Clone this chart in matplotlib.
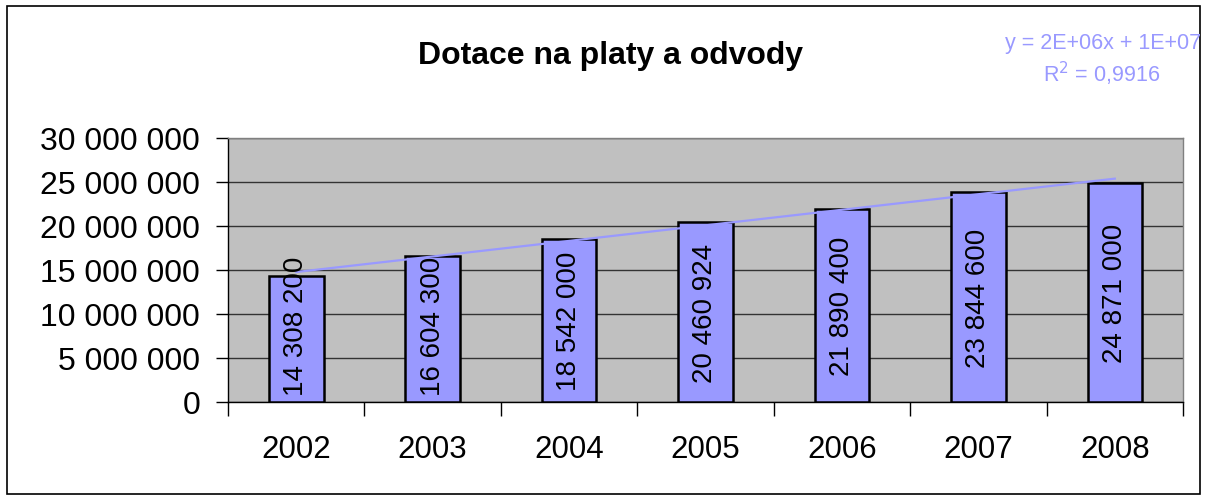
import numpy as np
import matplotlib
matplotlib.use("Agg")
import matplotlib.pyplot as plt
from matplotlib.patches import Rectangle

years = ["2002", "2003", "2004", "2005", "2006", "2007", "2008"]
values = [14308200, 16604300, 18542000, 20460924, 21890400, 23844600, 24871000]
value_labels = ["14 308 200", "16 604 300", "18 542 000", "20 460 924",
                "21 890 400", "23 844 600", "24 871 000"]
yticks = [0, 5000000, 10000000, 15000000, 20000000, 25000000, 30000000]
ytick_labels = ["0", "5 000 000", "10 000 000", "15 000 000", "20 000 000",
                "25 000 000", "30 000 000"]

plt.rcParams['font.family'] = ['Liberation Sans', 'DejaVu Sans']

W, H = 1209, 502
fig = plt.figure(figsize=(W / 100, H / 100), dpi=100)
fig.patch.set_facecolor('white')

# outer chart border
fig.patches.append(Rectangle((7 / W, 1 - 495 / H), (1200 - 7) / W, (495 - 7) / H,
                             transform=fig.transFigure, fill=False,
                             edgecolor='black', linewidth=1.2))

left, right, top, bottom = 228, 1183, 139, 403
ax = fig.add_axes([left / W, 1 - bottom / H, (right - left) / W, (bottom - top) / H])
ax.set_facecolor('#C0C0C0')

x = np.arange(len(years))
ax.bar(x, values, width=0.4, color='#9999FF', edgecolor='black', linewidth=1.8, zorder=3)

# labels centred in the bar, but kept inside above the base
min_center = 8.75e6
for xi, v, lab in zip(x, values, value_labels):
    ax.text(xi, max(v / 2, min_center), lab, rotation=90, ha='center', va='center',
            rotation_mode='anchor', fontsize=20, color='black', zorder=5)

# linear trendline
coef = np.polyfit(x + 1, values, 1)
tx = np.array([x[0], x[-1]])
ax.plot(tx, np.polyval(coef, tx + 1), color='#9999FF', linewidth=1.6, zorder=4)

ax.set_xlim(-0.5, len(years) - 0.5)
ax.set_ylim(0, 30000000)
ax.set_yticks(yticks)
ax.set_yticklabels(ytick_labels, fontsize=23)
ax.yaxis.grid(True, color='#333333', linewidth=1.0, zorder=1)
ax.set_axisbelow(True)

ax.set_xticks(x)
ax.set_xticklabels(years, fontsize=22.5)
ax.set_xticks(np.arange(-0.5, len(years)), minor=True)
ax.tick_params(axis='x', which='major', length=0, pad=23)
ax.tick_params(axis='x', which='minor', length=10, width=1, color='black')
ax.tick_params(axis='y', length=9, width=1, color='black', pad=11)

for s in ['top', 'right']:
    ax.spines[s].set_color('#808080')
    ax.spines[s].set_linewidth(1.0)
for s in ['left', 'bottom']:
    ax.spines[s].set_color('black')
    ax.spines[s].set_linewidth(1.0)

fig.text(610 / W, 1 - 56 / H, "Dotace na platy a odvody", ha='center', va='center',
         fontsize=23, fontweight='bold')
fig.text(1103 / W, 1 - 44 / H, "y = 2E+06x + 1E+07", ha='center', va='center',
         fontsize=15.5, color='#9999FF')
fig.text(1102 / W, 1 - 74 / H, r"R$^2$ = 0,9916", ha='center', va='center',
         fontsize=15.5, color='#9999FF')

fig.savefig("out.png", dpi=100)
